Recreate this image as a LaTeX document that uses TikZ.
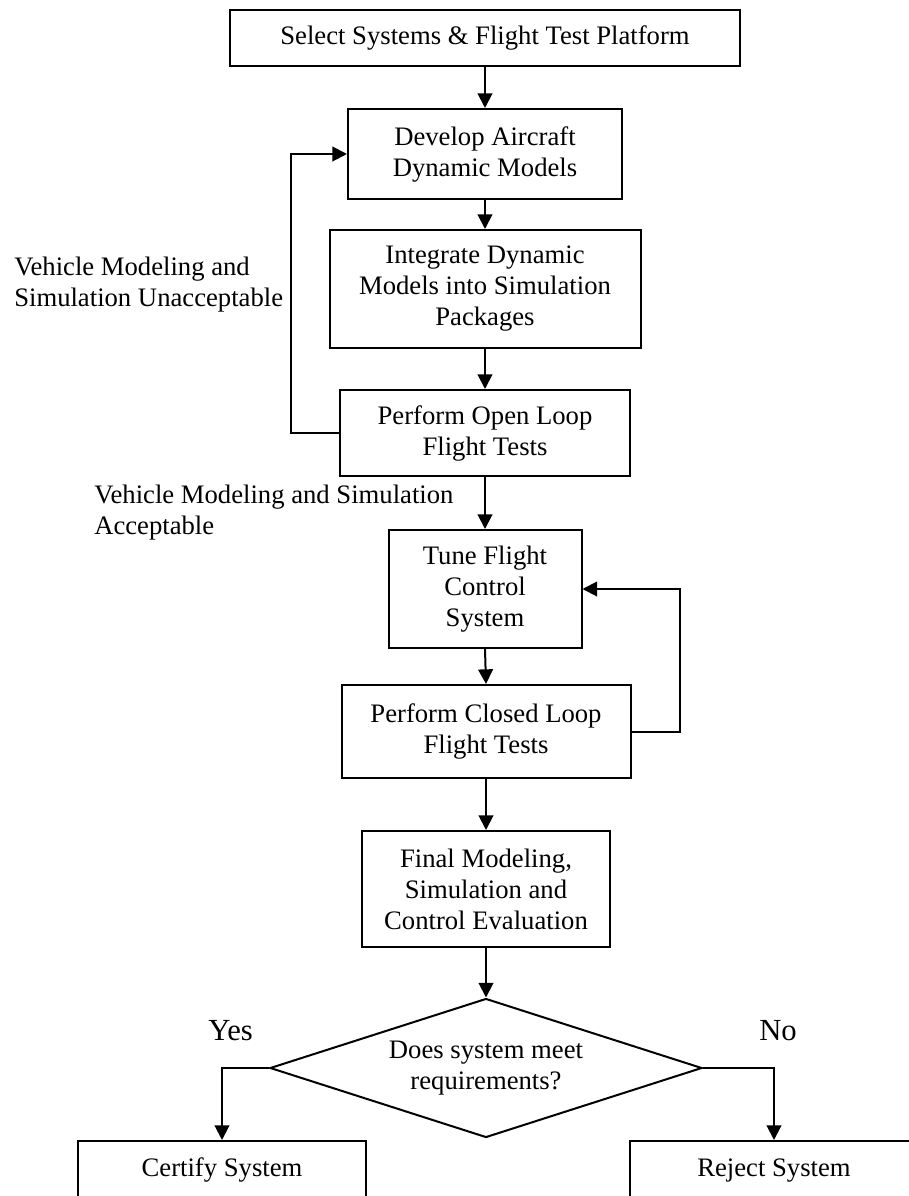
\documentclass[tikz,border=0pt]{standalone}
\usepackage{fontspec}
\setmainfont{Liberation Serif}
\usetikzlibrary{arrows.meta,shapes.geometric}
\begin{document}
\begin{tikzpicture}[x=0.75pt,y=-0.75pt,
  every node/.style={font=\fontsize{20pt}{23.25pt}\selectfont, inner sep=0pt},
  box/.style={draw, line width=1.5pt, align=center},
  outcome/.style={box, anchor=north, minimum width=216pt, minimum height=43.5pt,
                  text height=13.8pt, text depth=4.4pt},
  flow/.style={line width=1.5pt, -{Triangle[length=11pt,width=11pt]}},
  sidenote/.style={align=left, anchor=west},
  answer/.style={anchor=base west, font=\fontsize{23pt}{27pt}\selectfont}]

% page
\useasboundingbox[fill=white] (0,0) rectangle (909,1196);

% process steps
\node[box, minimum width=382.5pt, minimum height=42pt] (select) at (485,38)
  {Select Systems \& Flight Test Platform};
\node[box, minimum width=205.5pt, minimum height=67.5pt] (develop) at (485,154)
  {Develop Aircraft\\Dynamic Models};
\node[box, minimum width=233.25pt, minimum height=88.5pt] (integrate) at (485,289)
  {Integrate Dynamic\\Models into Simulation\\Packages};
\node[box, minimum width=217.5pt, minimum height=64.5pt] (openloop) at (485,433)
  {Perform Open Loop\\Flight Tests};
\node[box, minimum width=144.75pt, minimum height=88.5pt] (tune) at (485,589)
  {Tune Flight\\Control\\System};
\node[box, minimum width=216.75pt, minimum height=69.75pt] (closed) at (486,731.5)
  {Perform Closed Loop\\Flight Tests};
\node[box, minimum width=186pt, minimum height=87pt] (final) at (486,889)
  {Final Modeling,\\Simulation and\\Control Evaluation};

% decision
\node[box, diamond, aspect=3.1, minimum width=324pt, minimum height=104.25pt] (decide) at (486,1068)
  {Does system meet\\requirements?};

% outcomes (their lower edges run past the page)
\node[outcome] (certify) at (222,1140) {Certify System};
\node[outcome] (reject) at (774,1140) {Reject System};

% side notes
\node[sidenote] (unacc) at (14,285) {Vehicle Modeling and\\Simulation Unacceptable};
\node[sidenote] (acc) at (94,513) {Vehicle Modeling and Simulation\\Acceptable};
\node[answer] (yes) at (208,1040) {Yes};
\node[answer] (no) at (759,1040) {No};

% main flow
\draw[flow] (select.south) -- (develop.north);
\draw[flow] (develop.south) -- (integrate.north);
\draw[flow] (integrate.south) -- (openloop.north);
\draw[flow] (openloop.south) -- (tune.north);
\draw[flow] (tune.south) -- (closed.north);
\draw[flow] (closed.south) -- (final.north);
\draw[flow] (final.south) -- (decide.north);

% iteration loops
\draw[flow] (openloop.west) -- ++(-48,0) |- (develop.west);
\draw[flow] (closed.east) -- ++(48,0) |- (tune.east);

% decision branches
\draw[flow] (decide.west) -| (certify.north);
\draw[flow] (decide.east) -| (reject.north);
\end{tikzpicture}
\end{document}
